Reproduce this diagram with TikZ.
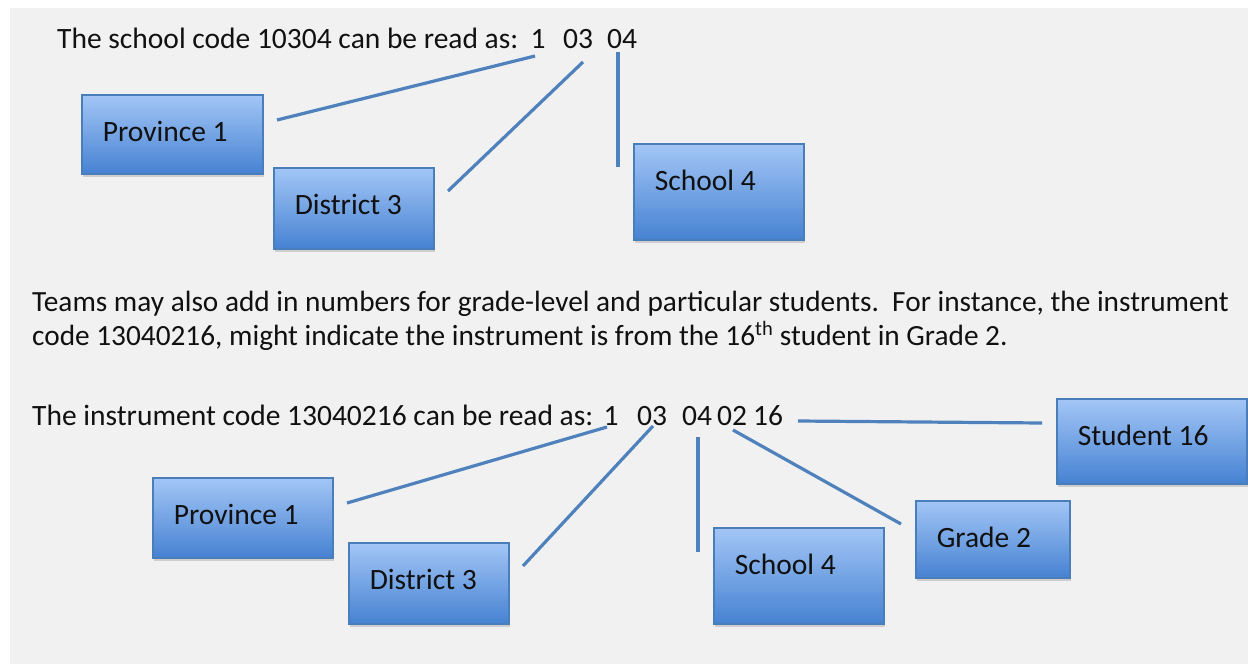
\documentclass[tikz,border=0pt]{standalone}
\usepackage{fontspec}
\setmainfont{Carlito}
\usetikzlibrary{shadows,calc}
\definecolor{bg}{HTML}{F1F1F1}
\definecolor{boxtop}{HTML}{A3C6F6}
\definecolor{boxbot}{HTML}{4682D2}
\definecolor{boxline}{HTML}{4A7EBB}
\definecolor{connc}{HTML}{4F81BD}
\definecolor{ink}{HTML}{111111}
\newcommand{\bodyfont}{\fontsize{29.5}{35}\selectfont}
\newcommand{\parafont}{\fontsize{29.3}{35}\selectfont}
\begin{document}
\begin{tikzpicture}[x=1pt,y=-1pt,
  box/.style={draw=boxline, line width=1.5pt, top color=boxtop, bottom color=boxbot,
    inner xsep=21pt, inner ysep=0pt, text height=47pt, align=flush left, anchor=north west,
    font=\bodyfont, text=ink,
    drop shadow={shadow xshift=1pt, shadow yshift=-3pt, opacity=0.3, fill=black!50}},
  conn/.style={draw=connc, line width=3.2pt},
  txt/.style={inner sep=0pt, anchor=base west, font=\bodyfont, text=ink},
  dig/.style={inner sep=0pt, anchor=base, font=\bodyfont, text=ink}]
\useasboundingbox (0,0) rectangle (1248,664);
\fill[white] (0,0) rectangle (1248,664);
\fill[bg] (10,8) rectangle (1248,664);

% ---------- top part ----------
\node[txt] (title1) at (57,48) {The school code 10304 can be read as:};
\node[dig] (ta) at (538,48) {1};
\node[dig] (tb) at (578,48) {03};
\node[dig] (tc) at (622,48) {04};

\node[box, text width=139pt, text depth=32pt] (tp) at (81,94) {Province 1};
\node[box, text width=118pt, text depth=34pt] (td) at (273,167) {District 3};
\node[box, text width=128pt, text depth=49pt] (ts) at (633,143) {School 4};

\coordinate (tp1) at (277,120); \coordinate (tp2) at (535,56);
\coordinate (td1) at (448,191); \coordinate (td2) at (583,62);
\coordinate (ts1) at (618,167); \coordinate (ts2) at (618,52);
\draw[conn] (tp1) -- (tp2);
\draw[conn] (td1) -- (td2);
\draw[conn] (ts1) -- (ts2);

% ---------- paragraph ----------
\node[txt, font=\parafont] (para1) at (32,311) {Teams may also add in numbers for grade-level and particular students.\ \ For instance, the instrument};
\node[txt, font=\parafont] (para2) at (32,345) {code 13040216, might indicate the instrument is from the 16\textsuperscript{th} student in Grade 2.};

% ---------- bottom part ----------
\node[txt] (title2) at (32,425) {The instrument code 13040216 can be read as:};
\node[dig] (ba) at (611,425) {1};
\node[dig] (bb) at (652,425) {03};
\node[dig] (bc) at (697,425) {04};
\node[dig] (bd) at (732,425) {02};
\node[dig] (be) at (768,425) {16};

\node[box, text width=138pt, text depth=33pt] (bp) at (152,477) {Province 1};
\node[box, text width=118pt, text depth=34pt] (bdist) at (348,542) {District 3};
\node[box, text width=128pt, text depth=49pt] (bs) at (713,527) {School 4};
\node[box, text width=112pt, text depth=30pt] (bg2) at (915,500) {Grade 2};
\node[box, text width=148pt, text depth=38pt] (bst) at (1056,398) {Student 16};

\coordinate (bp1) at (347,503); \coordinate (bp2) at (607,427);
\coordinate (bd1) at (523,566); \coordinate (bd2) at (653,426);
\coordinate (bs1) at (698,552); \coordinate (bs2) at (698,437);
\coordinate (bg1) at (901,524); \coordinate (bgg) at (733,430);
\coordinate (bt1) at (1042,423); \coordinate (bt2) at (798,421);
\draw[conn] (bp1) -- (bp2);
\draw[conn] (bd1) -- (bd2);
\draw[conn] (bs1) -- (bs2);
\draw[conn] (bg1) -- (bgg);
\draw[conn] (bt1) -- (bt2);
\end{tikzpicture}
\end{document}
